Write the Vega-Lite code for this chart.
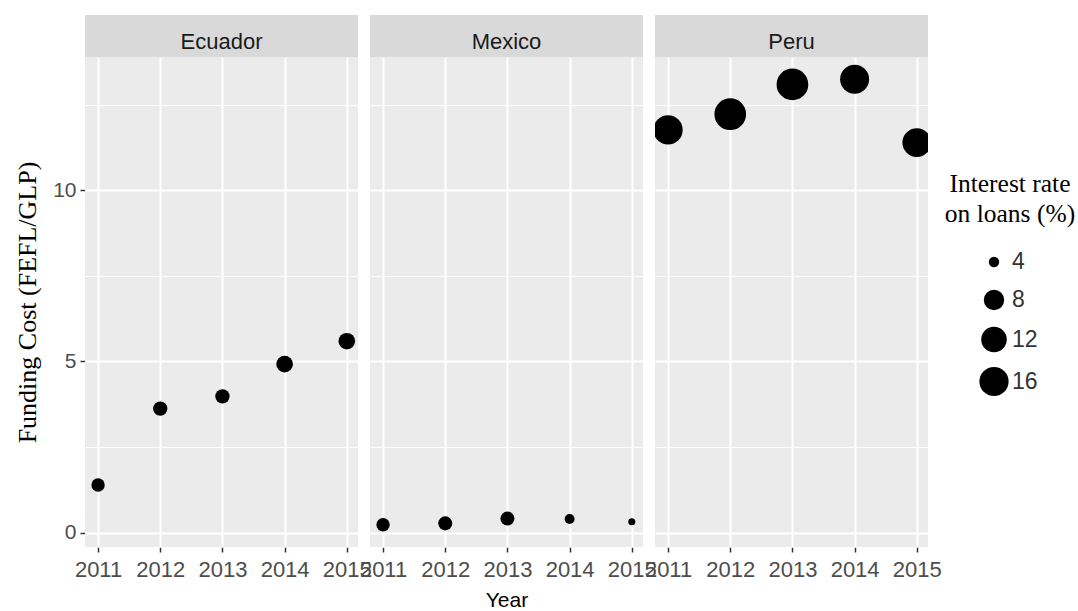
{
  "$schema": "https://vega.github.io/schema/vega-lite/v6.json",
  "padding": {"left": 14, "top": 15, "right": 0, "bottom": 0},
  "background": "white",
  "datasets": {
    "fc": [
      {"country": "Ecuador", "year": 2011, "cost": 1.39, "rate": 4.8},
      {"country": "Ecuador", "year": 2012, "cost": 3.62, "rate": 5.1},
      {"country": "Ecuador", "year": 2013, "cost": 3.98, "rate": 5.1},
      {"country": "Ecuador", "year": 2014, "cost": 4.92, "rate": 6.0},
      {"country": "Ecuador", "year": 2015, "cost": 5.59, "rate": 6.0},
      {"country": "Mexico", "year": 2011, "cost": 0.23, "rate": 4.8},
      {"country": "Mexico", "year": 2012, "cost": 0.27, "rate": 5.0},
      {"country": "Mexico", "year": 2013, "cost": 0.41, "rate": 5.0},
      {"country": "Mexico", "year": 2014, "cost": 0.40, "rate": 3.9},
      {"country": "Mexico", "year": 2015, "cost": 0.32, "rate": 3.4},
      {"country": "Peru", "year": 2011, "cost": 11.76, "rate": 16.0},
      {"country": "Peru", "year": 2012, "cost": 12.22, "rate": 19.4},
      {"country": "Peru", "year": 2013, "cost": 13.09, "rate": 19.4},
      {"country": "Peru", "year": 2014, "cost": 13.24, "rate": 15.7},
      {"country": "Peru", "year": 2015, "cost": 11.39, "rate": 15.5}
    ],
    "strips": [
      {"country": "Ecuador"},
      {"country": "Mexico"},
      {"country": "Peru"}
    ]
  },
  "spacing": 0,
  "vconcat": [
    {
      "data": {"name": "strips"},
      "facet": {"column": {"field": "country", "type": "nominal", "header": {"labels": false, "title": null}}},
      "spacing": 12,
      "spec": {
        "width": 273,
        "height": 42,
        "view": {"fill": "#D9D9D9", "stroke": null},
        "layer": [
          {
            "mark": {"type": "rule", "opacity": 0},
            "encoding": {
              "y": {
                "datum": 0,
                "type": "quantitative",
                "scale": {"domain": [-0.42, 13.89], "nice": false, "zero": false},
                "axis": {
                  "title": "F",
                  "values": [7],
                  "labelExpr": "'10'",
                  "grid": false,
                  "ticks": true,
                  "tickOpacity": 0,
                  "labelOpacity": 0,
                  "titleOpacity": 0,
                  "labelFontSize": 21,
                  "labelPadding": 4,
                  "titleFont": "Liberation Serif",
                  "titleFontSize": 26,
                  "titleFontWeight": "normal",
                  "titlePadding": 12
                }
              }
            }
          },
          {
            "mark": {"type": "text", "font": "Liberation Sans", "fontSize": 22, "color": "#1A1A1A", "baseline": "alphabetic", "dy": 12.5},
            "encoding": {"text": {"field": "country", "type": "nominal"}}
          }
        ]
      }
    },
    {
      "data": {"name": "fc"},
      "facet": {
        "column": {
          "field": "country",
          "type": "nominal",
          "title": "Year",
          "header": {
            "labels": false,
            "titleOrient": "bottom",
            "titleFont": "Liberation Sans",
            "titleFontSize": 21,
            "titleFontWeight": "normal",
            "titleColor": "#000000",
            "titlePadding": 0
          }
        }
      },
      "spacing": 12,
      "spec": {
        "width": 273,
        "height": 490,
        "view": {"fill": "#EBEBEB", "stroke": null},
        "mark": {"type": "circle", "color": "#000000", "opacity": 1, "clip": true},
        "encoding": {
          "x": {
            "field": "year",
            "type": "quantitative",
            "scale": {"domain": [2010.79, 2015.18], "nice": false, "zero": false},
            "axis": {
              "title": null,
              "values": [2011, 2011.5, 2012, 2012.5, 2013, 2013.5, 2014, 2014.5, 2015],
              "format": "d",
              "labelExpr": "datum.value % 1 === 0 ? datum.label : ''",
              "labelFlush": false,
              "labelOverlap": false,
              "tickOpacity": {"condition": {"test": "datum.value % 1 === 0", "value": 1}, "value": 0},
              "gridWidth": {"condition": {"test": "datum.value % 1 === 0", "value": 2}, "value": 1},
              "labelFontSize": 22,
              "labelPadding": 7
            }
          },
          "y": {
            "field": "cost",
            "type": "quantitative",
            "scale": {"domain": [-0.42, 13.89], "nice": false, "zero": false},
            "axis": {
              "title": "Funding Cost (FEFL/GLP)",
              "values": [0, 2.5, 5, 7.5, 10, 12.5],
              "labelExpr": "datum.value % 5 === 0 ? datum.label : ''",
              "tickOpacity": {"condition": {"test": "datum.value % 5 === 0", "value": 1}, "value": 0},
              "gridWidth": {"condition": {"test": "datum.value % 5 === 0", "value": 2}, "value": 1},
              "labelFontSize": 21,
              "labelPadding": 4,
              "titleFont": "Liberation Serif",
              "titleFontSize": 26,
              "titleFontWeight": "normal",
              "titleColor": "#000000",
              "titlePadding": 12
            }
          },
          "size": {
            "field": "rate",
            "type": "quantitative",
            "scale": {"type": "sqrt", "domain": [3.5, 17], "range": [60, 900], "zero": false},
            "legend": {
              "title": ["Interest rate", "on loans (%)"],
              "values": [4, 8, 12, 16],
              "orient": "none",
              "legendX": 860,
              "legendY": 157,
              "titleFont": "Liberation Serif",
              "titleFontSize": 25.5,
              "titleFontWeight": "normal",
              "titleColor": "#000000",
              "titleLineHeight": 30,
              "titleAnchor": "middle",
              "titleAlign": "center",
              "titlePadding": 23,
              "labelFont": "Liberation Sans",
              "labelFontSize": 23,
              "labelColor": "#333333",
              "labelOffset": 3,
              "symbolFillColor": "#000000",
              "symbolStrokeWidth": 0,
              "symbolOpacity": 1,
              "symbolOffset": -3,
              "rowPadding": 14
            }
          }
        }
      }
    }
  ],
  "config": {
    "font": "Liberation Sans",
    "view": {"fill": "#EBEBEB", "stroke": null},
    "axis": {
      "domain": false,
      "gridColor": "#FFFFFF",
      "gridOpacity": 1,
      "tickColor": "#333333",
      "tickSize": 5,
      "tickWidth": 1.5,
      "labelColor": "#4D4D4D",
      "labelFont": "Liberation Sans"
    }
  }
}
